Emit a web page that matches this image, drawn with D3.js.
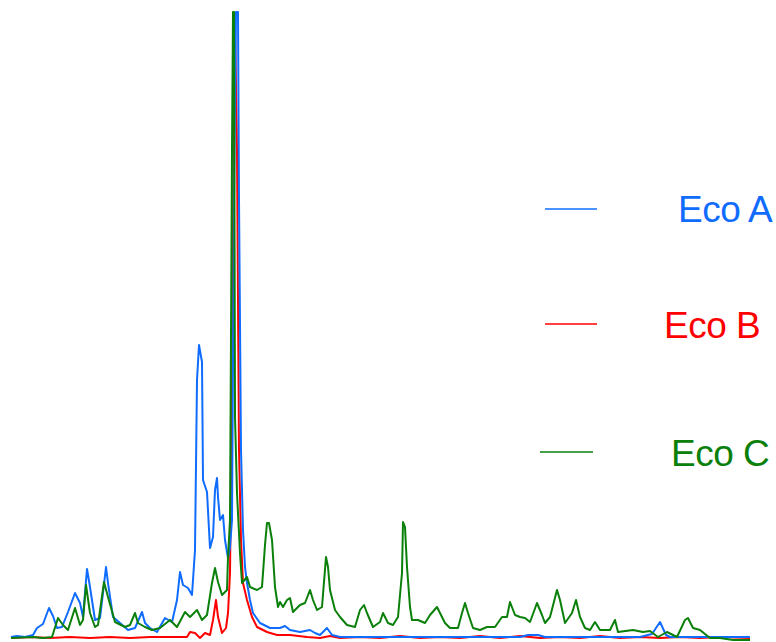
<!DOCTYPE html>
<html><head><meta charset="utf-8">
<script src="https://cdn.jsdelivr.net/npm/d3@7"></script>
<style>html,body{margin:0;padding:0;background:#fff;}svg{display:block;}</style>
</head><body>
<script>
const seriesNames = ["Eco A", "Eco B", "Eco C"];
const seriesColors = ["#0f6cff", "#ff0000", "#0a800a"];

const ecoA = [[11,1],[17,2],[25,1],[33,3],[37,10],[43,14],[49,30],[53,22],[57,10],[62,11],[68,26],[75,45],[80,35],[83,21],[87,69],[90,51],[95,18],[100,20],[103,45],[106,71],[108,55],[113,21],[120,15],[128,8],[135,10],[142,26],[145,15],[150,10],[157,6],[165,20],[172,16],[177,38],[180,66],[183,53],[188,50],[192,43],[195,88],[197,258],[199,293],[202,276],[203,158],[207,146],[210,90],[213,101],[215,148],[217,160],[218,141],[220,118],[223,123],[225,98],[228,80],[230,91],[232,118],[234,438],[236,626],[238,626],[239,438],[241,188],[243,108],[245,71],[247,55],[250,38],[253,25],[260,15],[270,10],[280,10],[285,12],[290,8],[300,6],[310,8],[315,5],[320,3],[327,10],[332,3],[340,1],[400,1],[520,1],[528,3],[538,3],[545,1],[640,1],[652,4],[660,16],[666,3],[670,1],[750,1]];

const ecoB = [[11,0],[30,1],[50,0],[70,1],[90,0],[110,1],[130,0],[150,1],[170,1],[187,1],[190,6],[195,5],[200,0],[205,5],[210,3],[213,18],[216,38],[218,21],[222,5],[226,10],[228,25],[230,65],[232,240],[234,578],[235,616],[237,488],[239,188],[241,98],[243,55],[247,38],[252,21],[257,11],[267,6],[277,3],[290,3],[307,1],[320,0],[330,2],[340,0],[360,1],[380,0],[400,2],[420,0],[440,1],[460,0],[480,2],[500,0],[520,2],[540,0],[560,1],[580,0],[600,2],[620,0],[640,1],[660,0],[680,1],[700,0],[720,1],[750,0]];

const ecoC = [[11,0],[33,1],[43,0],[52,1],[58,20],[63,13],[68,8],[75,30],[80,13],[83,18],[86,53],[90,25],[95,11],[98,13],[104,56],[108,41],[115,16],[125,11],[130,13],[135,25],[138,15],[145,11],[152,8],[160,10],[170,18],[177,11],[185,26],[190,21],[197,28],[202,18],[207,23],[212,55],[215,70],[218,56],[222,43],[227,48],[228,81],[230,118],[232,488],[233,626],[234,626],[235,221],[237,145],[240,85],[242,55],[247,61],[250,51],[257,48],[262,51],[265,93],[267,115],[269,115],[272,98],[275,51],[278,31],[280,36],[283,31],[287,38],[290,40],[293,26],[300,33],[305,35],[310,48],[313,38],[317,28],[322,31],[326,81],[328,71],[330,48],[335,28],[340,21],[347,13],[355,11],[360,28],[364,33],[367,25],[373,11],[380,16],[383,25],[388,15],[393,13],[398,21],[402,65],[403,116],[405,111],[407,71],[410,31],[412,18],[418,18],[425,15],[430,23],[437,31],[440,25],[445,15],[450,10],[458,10],[462,25],[465,35],[468,25],[473,10],[480,8],[487,11],[495,11],[502,21],[507,21],[510,36],[515,23],[520,21],[525,20],[530,16],[537,35],[542,23],[545,15],[550,21],[557,48],[560,38],[565,15],[572,25],[576,38],[580,21],[585,10],[590,8],[595,16],[600,8],[610,8],[615,18],[618,6],[633,8],[643,6],[650,7],[658,1],[667,6],[677,1],[685,18],[688,20],[693,10],[700,8],[710,0],[720,0],[733,-2],[750,-2]];

const W = 776, H = 642;
const svg = d3.select("body").append("svg").attr("width", W).attr("height", H);

const x = d3.scaleLinear().domain([0, 776]).range([0, 776]);
const y = d3.scaleLinear().domain([0, 626]).range([638, 12]);

const line = d3.line().x(d => x(d[0])).y(d => y(d[1]));

const data = [ecoA, ecoB, ecoC];
const order = [1, 0, 2];
order.forEach(i => {
  svg.append("path").datum(data[i])
    .attr("d", line)
    .attr("fill", "none")
    .attr("stroke", seriesColors[i])
    .attr("stroke-width", 2)
    .attr("stroke-linejoin", "round");
});

// legend
const legend = [
  {x1: 545, x2: 597, ly: 209, tx: 678, ty: 222},
  {x1: 545, x2: 597, ly: 324, tx: 664, ty: 338},
  {x1: 540, x2: 593, ly: 452, tx: 671, ty: 466}
];
legend.forEach((l, i) => {
  svg.append("line").attr("x1", l.x1).attr("x2", l.x2).attr("y1", l.ly).attr("y2", l.ly)
    .attr("stroke", seriesColors[i]).attr("stroke-width", 1.6);
  svg.append("text").attr("x", l.tx).attr("y", l.ty)
    .attr("fill", seriesColors[i])
    .attr("font-family", "Liberation Sans, Arial, sans-serif")
    .attr("font-size", 37)
    .attr("letter-spacing", -0.5)
    .text(seriesNames[i]);
});
</script>
</body></html>
